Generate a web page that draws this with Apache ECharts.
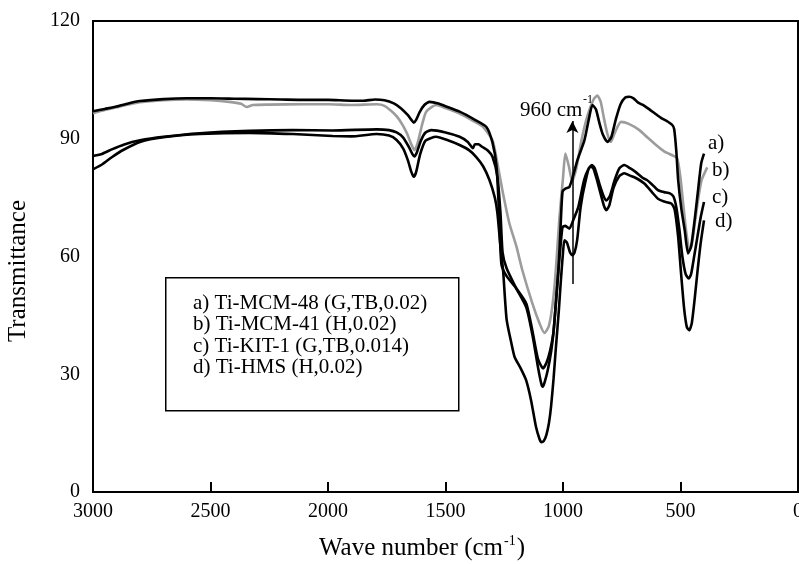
<!DOCTYPE html>
<html>
<head>
<meta charset="utf-8">
<script src="https://cdn.jsdelivr.net/npm/echarts@6/dist/echarts.min.js"></script>
<style>
  html, body { margin: 0; padding: 0; background: #fff; }
  #chart { width: 799px; height: 564px; }
</style>
</head>
<body>
<div id="chart"></div>
<script>
// wave number (cm-1) / transmittance pairs
var curveA = [[3000,97.0],[2950,97.6],[2900,98.2],[2850,99.0],[2800,99.6],[2700,100.1],[2600,100.3],[2500,100.3],[2400,100.2],[2300,100.1],[2200,100.0],[2100,99.9],[2000,99.9],[1900,99.7],[1850,99.7],[1800,100.0],[1760,99.8],[1720,99.0],[1690,97.8],[1660,96.0],[1645,94.8],[1635,94.1],[1625,94.8],[1610,96.8],[1590,98.6],[1568,99.4],[1530,99.0],[1500,98.3],[1440,96.9],[1380,95.0],[1326,93.0],[1300,89.0],[1283,83.0],[1272,71],[1262,58],[1240,55],[1200,52],[1156,48],[1130,41],[1107,34],[1085,31.5],[1070,33],[1055,36],[1040,41],[1028,50],[1019,57],[1010,68],[1002,76.5],[990,77.3],[973,77.7],[955,81],[939,84.5],[909,89.6],[890,95],[875,98.6],[860,97.5],[845,94],[830,91],[811,89.2],[795,90.3],[775,95],[755,98.8],[735,100.5],[718,100.7],[700,100.3],[680,99.2],[660,98.6],[640,97.8],[610,96.5],[580,95.2],[555,94.4],[535,93.5],[527,92.5],[518,87],[510,79.5],[496,72],[482,66.7],[468,60.8],[455,62.5],[440,69.2],[426,76.5],[412,83.7],[400,86.2]];
var curveB = [[3000,96.5],[2950,97.3],[2900,98.0],[2850,98.7],[2800,99.3],[2700,99.8],[2600,100.0],[2500,99.8],[2420,99.4],[2370,98.9],[2346,98.1],[2320,98.6],[2250,98.7],[2100,98.8],[2000,98.8],[1900,98.6],[1793,98.8],[1760,98.4],[1720,96.5],[1695,94.7],[1665,91.5],[1645,88.5],[1632,87.1],[1618,89],[1600,93.5],[1582,96.9],[1540,98.6],[1500,97.8],[1440,96.4],[1390,94.8],[1342,93.1],[1300,89.6],[1279,83.7],[1258,76.9],[1228,68.4],[1198,62.5],[1173,56.5],[1130,48],[1100,43],[1079,40.5],[1062,42],[1051,45],[1040,50],[1030,57],[1015,70],[1000,80],[990,86.2],[975,83],[961,79.2],[945,82],[920,90],[895,96],[870,100],[854,101],[840,99.5],[825,95],[810,91],[796,89.2],[780,91.5],[753,94.3],[720,93.8],[675,92.2],[640,90.3],[604,88.4],[570,86.8],[535,85.8],[514,85.0],[500,80],[488,73],[475,66],[463,62],[452,63],[440,68],[425,74.5],[410,79.5],[386,82.7]];
var curveC = [[3000,85.6],[2960,86.2],[2920,87.3],[2870,88.5],[2800,89.6],[2700,90.5],[2545,91.4],[2333,92.0],[2150,92.2],[1980,92.1],[1793,92.4],[1740,92.2],[1708,91.6],[1680,90.3],[1655,87.8],[1640,86.0],[1632,85.5],[1622,86.5],[1605,89.5],[1585,91.6],[1560,92.2],[1500,91.6],[1440,90.5],[1405,89.2],[1390,88.0],[1383,87.6],[1375,88.6],[1360,88.6],[1343,87.9],[1320,87],[1300,85.4],[1279,80.3],[1266,71],[1257,61],[1240,57],[1200,52],[1156,47],[1130,40],[1107,32],[1092,27.5],[1086,26.8],[1078,28],[1065,31],[1050,36],[1040,41],[1028,50],[1019,57],[1010,63],[1002,67.5],[990,67.8],[973,67.1],[955,69.5],[935,72.6],[910,79.5],[890,82.5],[877,83.3],[865,82.5],[845,78.5],[828,75.5],[815,74.3],[800,75.5],[780,79.5],[760,82.5],[739,83.3],[715,82.5],[690,81.5],[660,80.0],[643,79.5],[620,78.3],[596,76.9],[570,76.4],[545,76.1],[530,75.3],[518,72.6],[505,67],[492,60],[478,55.5],[465,54.4],[455,55.5],[442,60],[428,65],[414,70],[400,73.9]];
var curveD = [[3000,82.2],[2960,83.5],[2920,85.3],[2870,87.2],[2800,89.2],[2700,90.4],[2545,91.2],[2333,91.5],[2150,91.2],[1980,90.7],[1900,90.6],[1793,91.2],[1740,90.8],[1708,89.7],[1680,87.5],[1660,84.5],[1645,81.5],[1635,80.3],[1625,81.5],[1608,86],[1585,89.5],[1540,90.5],[1490,89.6],[1440,88.4],[1400,87.1],[1370,85.4],[1340,83],[1313,79.5],[1290,75],[1279,71],[1266,62.5],[1255,56.5],[1240,44],[1220,38],[1206,34.4],[1180,31.5],[1157,28.5],[1136,23.4],[1115,16.6],[1100,13.5],[1092,12.7],[1082,13],[1071,14.5],[1060,17.5],[1051,21.7],[1040,29],[1030,37],[1018,46],[1009,54],[1000,61],[994,64.1],[983,63.5],[970,61],[960,60.3],[951,61],[940,64.1],[925,72.6],[905,79],[885,82.8],[872,82.6],[858,80],[840,76],[825,72.8],[815,71.8],[803,73],[785,77.5],[760,80.5],[739,81.2],[715,80.6],[690,80],[654,78.6],[620,76.3],[596,74.7],[570,74],[539,73.5],[525,72],[510,65],[498,56],[485,47],[473,42],[463,41.2],[452,43],[440,49],[428,56],[415,63],[400,69.2]];

var legendLines = ['a) Ti-MCM-48 (G,TB,0.02)', 'b) Ti-MCM-41 (H,0.02)', 'c) Ti-KIT-1 (G,TB,0.014)', 'd) Ti-HMS (H,0.02)'];
var curveTags = ['a)', 'b)', 'c)', 'd)'];
var arrowFrom = [960, 53];
var arrowTo = [960, 94.5];

var serif = 'Liberation Serif, Times New Roman, serif';
var chart = echarts.init(document.getElementById('chart'));

function spectrum(name, data, color) {
  return {
    name: name,
    type: 'line',
    data: data,
    showSymbol: false,
    smooth: 0.2,
    lineStyle: { color: color, width: 2.6 },
    z: color === '#000' ? 3 : 2
  };
}

var series = [
  spectrum('b', curveB, '#9c9c9c'),
  spectrum('a', curveA, '#000'),
  spectrum('c', curveC, '#000'),
  spectrum('d', curveD, '#000')
];
// 960 cm-1 arrow
series[3].markLine = {
  silent: true,
  symbol: ['none', 'arrow'],
  symbolSize: [9, 12],
  label: { show: false },
  lineStyle: { color: '#000', width: 1.5, type: 'solid' },
  data: [[{ coord: arrowFrom }, { coord: arrowTo }]]
};

var graphics = [
  { type: 'rect', left: 165, top: 277, shape: { width: 293, height: 133 },
    style: { fill: '#fff', stroke: '#000', lineWidth: 1.5 } },
  { type: 'text', x: 18, y: 271, rotation: Math.PI / 2,
    style: { text: 'Transmittance', font: '25px ' + serif, fill: '#000', textAlign: 'center', textVerticalAlign: 'middle' } },
  { type: 'text', x: 422, y: 548,
    style: { text: '{n|Wave number (cm}{s|-1}{n|)}', fill: '#000', textAlign: 'center', textVerticalAlign: 'middle',
      rich: { n: { fontSize: 25, fontFamily: serif, lineHeight: 28 }, s: { fontSize: 14, fontFamily: serif, verticalAlign: 'top', lineHeight: 14, padding: [0, 1, 0, 1] } } } },
  { type: 'text', x: 520, y: 110, style: { text: '960 cm', font: '21px ' + serif, fill: '#000', textVerticalAlign: 'middle' } },
  { type: 'text', x: 583, y: 100, style: { text: '-1', font: '12px ' + serif, fill: '#000', textVerticalAlign: 'middle' } }
];
var tagPos = [[708, 143], [712, 170], [712, 197], [715, 221]];
curveTags.forEach(function (t, i) {
  graphics.push({ type: 'text', x: tagPos[i][0], y: tagPos[i][1],
    style: { text: t, font: '21px ' + serif, fill: '#000', textVerticalAlign: 'middle' } });
});
legendLines.forEach(function (t, i) {
  graphics.push({ type: 'text', x: 193, y: 303 + i * 21.5,
    style: { text: t, font: '21px ' + serif, fill: '#000', textVerticalAlign: 'middle' } });
});

chart.setOption({
  animation: false,
  backgroundColor: '#fff',
  grid: { left: 93, right: 1, top: 21, bottom: 72, outerBoundsMode: 'none', containLabel: false,
    show: true, borderColor: '#000', borderWidth: 2, backgroundColor: 'transparent' },
  xAxis: {
    type: 'value', inverse: true, min: 0, max: 3000, interval: 500,
    axisLine: { lineStyle: { color: '#000', width: 2 } },
    axisTick: { inside: true, length: 10, lineStyle: { color: '#000', width: 2 } },
    axisLabel: { color: '#000', fontSize: 20, fontFamily: serif, margin: 10, formatter: function (v) { return String(v); } },
    splitLine: { show: false }
  },
  yAxis: {
    type: 'value', min: 0, max: 120, interval: 30,
    axisLine: { show: true, lineStyle: { color: '#000', width: 2 } },
    axisTick: { show: true, inside: true, length: 9, lineStyle: { color: '#000', width: 2 } },
    minorTick: { show: true, splitNumber: 2, length: 5, lineStyle: { color: '#000', width: 1.5 } },
    axisLabel: { color: '#000', fontSize: 20, fontFamily: serif, margin: 13 },
    splitLine: { show: false }
  },
  series: series,
  graphic: graphics
});
</script>
</body>
</html>
